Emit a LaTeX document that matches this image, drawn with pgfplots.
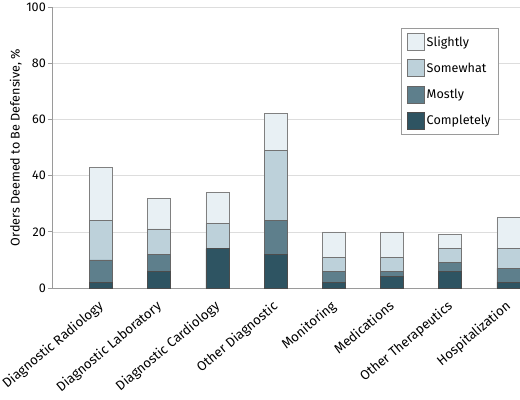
\documentclass[border=0pt]{standalone}
\usepackage{pgfplots}
\pgfplotsset{compat=1.18}
\usepackage{fontspec}
\setmainfont{Fira Sans}
\definecolor{cSl}{HTML}{E8F0F4}
\definecolor{cSo}{HTML}{BDD1DA}
\definecolor{cMo}{HTML}{5E7F8C}
\definecolor{cCo}{HTML}{2E5462}
\definecolor{axgray}{HTML}{9A9A9A}
\definecolor{grgray}{HTML}{DDDDDD}
\pgfplotsset{sqlegend/.style={legend image code/.code={\draw[##1] (0bp,-8.5bp) rectangle (17bp,8.5bp);}}}
\begin{document}
\begin{tikzpicture}[font=\fontsize{12.6bp}{15bp}\selectfont]
\begin{axis}[
  scale only axis, width=468bp, height=281bp,
  ybar stacked, bar width=23bp,
  xmin=-0.84, xmax=7.2, ymin=0, ymax=100,
  xtick={0,1,2,3,4,5,6,7},
  xticklabels={Diagnostic Radiology, Diagnostic Laboratory, Diagnostic Cardiology, Other Diagnostic, Monitoring, Medications, Other Therapeutics, Hospitalization},
  ytick={0,20,40,60,80,100},
  /pgf/number format/assume math mode=true,
  ymajorgrids, grid style={grgray, line width=0.6pt},
  axis x line*=bottom, axis y line*=left,
  axis line style={axgray, line width=0.9pt, -},
  tick align=outside, major tick length=4bp,
  ytick style={axgray, line width=0.8pt},
  xtick style={draw=none},
  xticklabel style={xshift=-3.5bp, yshift=-6bp, rotate=40, anchor=north east, inner sep=1bp,
    font=\fontsize{13.3bp}{15bp}\selectfont},
  yticklabel style={inner sep=2bp},
  ylabel={Orders Deemed to Be Defensive, \%},
  ylabel style={yshift=-1bp},
  legend style={at={(0.955,0.925)}, anchor=north east, draw=axgray, line width=0.6pt,
    inner xsep=6bp, inner ysep=5bp, row sep=8.5bp, cells={anchor=west},
    font=\fontsize{12.6bp}{15bp}\selectfont},
  reverse legend,
]
\addplot[fill=cCo, draw=black!70, line width=0.6pt, sqlegend]
  coordinates {(0,2) (1,6) (2,14) (3,12) (4,2) (5,4) (6,6) (7,2)};
\addlegendentry{Completely}
\addplot[fill=cMo, draw=black!60, line width=0.6pt, sqlegend]
  coordinates {(0,8) (1,6) (2,0) (3,12) (4,4) (5,2) (6,3) (7,5)};
\addlegendentry{Mostly}
\addplot[fill=cSo, draw=black!55, line width=0.6pt, sqlegend]
  coordinates {(0,14) (1,9) (2,9) (3,25) (4,5) (5,5) (6,5) (7,7)};
\addlegendentry{Somewhat}
\addplot[fill=cSl, draw=black!50, line width=0.6pt, sqlegend]
  coordinates {(0,19) (1,11) (2,11) (3,13) (4,9) (5,9) (6,5) (7,11)};
\addlegendentry{Slightly}
\end{axis}
\pgfresetboundingbox
\path (current axis.south west) ++(-52bp,-112bp) rectangle ++(520bp,400bp);
\end{tikzpicture}
\end{document}
